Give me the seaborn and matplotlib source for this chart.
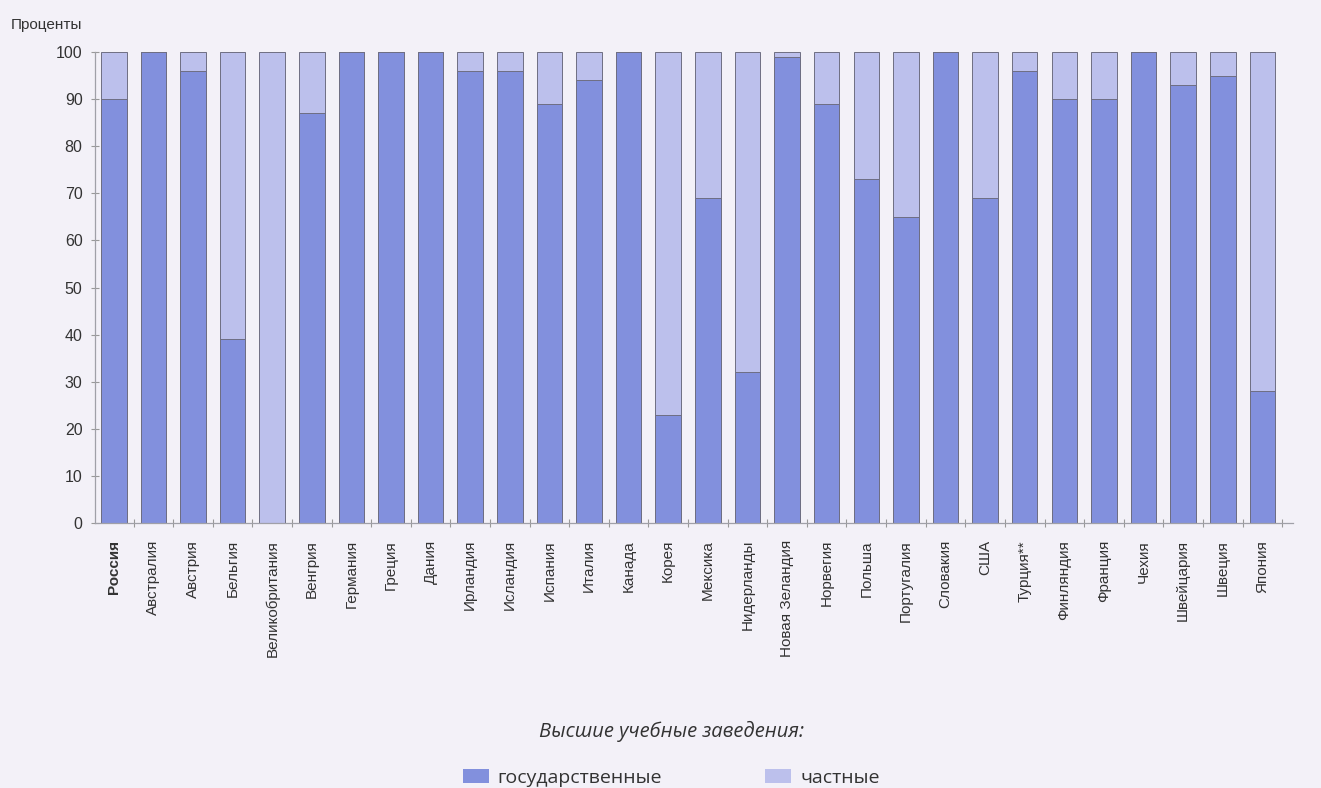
import matplotlib
matplotlib.use("Agg")
import matplotlib.pyplot as plt
from matplotlib.patches import Patch
from matplotlib.ticker import FixedLocator
import seaborn as sns
import pandas as pd

countries = ["Россия", "Австралия", "Австрия", "Бельгия", "Великобритания", "Венгрия",
             "Германия", "Греция", "Дания", "Ирландия", "Исландия", "Испания", "Италия",
             "Канада", "Корея", "Мексика", "Нидерланды", "Новая Зеландия", "Норвегия",
             "Польша", "Португалия", "Словакия", "США", "Турция**", "Финляндия",
             "Франция", "Чехия", "Швейцария", "Швеция", "Япония"]
state = [90, 100, 96, 39, 0, 87, 100, 100, 100, 96, 96, 89, 94, 100, 23, 69, 32, 99, 89,
         73, 65, 100, 69, 96, 90, 90, 100, 93, 95, 28]
private = [10, 0, 4, 61, 100, 13, 0, 0, 0, 4, 4, 11, 6, 0, 77, 31, 68, 1, 11,
           27, 35, 0, 31, 4, 10, 10, 0, 7, 5, 72]
yticks = [0, 10, 20, 30, 40, 50, 60, 70, 80, 90, 100]

c_state = "#8290DD"
c_private = "#BCC0EC"
bg = "#F3F1F8"

sns.set_theme(style="white")
plt.rcParams["font.family"] = ["Liberation Sans", "DejaVu Sans"]

df = pd.DataFrame({"country": countries, "state": state, "private": private})
df["total"] = df["state"] + df["private"]

fig = plt.figure(figsize=(13.21, 7.88), dpi=100, facecolor=bg)
ax = fig.add_axes([0.072, 0.336, 0.907, 0.598])
ax.set_facecolor(bg)

sns.barplot(data=df, x="country", y="total", order=countries, color=c_private,
            width=0.645, edgecolor="#6E6E82", linewidth=0.7, ax=ax, saturation=1)
sns.barplot(data=df, x="country", y="state", order=countries, color=c_state,
            width=0.645, edgecolor="#6E6E82", linewidth=0.7, ax=ax, saturation=1)

ax.set_xlim(-0.47, len(countries) - 0.22)
ax.set_ylim(0, 100)
ax.set_yticks(yticks)
ax.set_yticklabels([str(v) for v in yticks], fontsize=11.5, color="#333333")
ax.set_xlabel("")
ax.set_ylabel("")

ax.set_xticks(range(len(countries)))
ax.set_xticklabels(countries, rotation=90, fontsize=11, color="#333333",
                   va="top", ha="center")
ax.get_xticklabels()[0].set_fontweight("bold")
ax.xaxis.set_minor_locator(FixedLocator([i + 0.5 for i in range(len(countries))]))
ax.tick_params(axis="x", which="major", length=0, pad=12)
ax.tick_params(axis="x", which="minor", bottom=True, length=6, direction="inout",
               color="#999999", width=0.8)
ax.tick_params(axis="y", which="major", left=True, length=6, direction="inout",
               color="#999999", width=0.8, pad=6)

for s in ["top", "right"]:
    ax.spines[s].set_visible(False)
for s in ["left", "bottom"]:
    ax.spines[s].set_color("#A0A0A8")
    ax.spines[s].set_linewidth(0.9)

fig.text(0.008, 0.968, "Проценты", fontsize=11, color="#333333", ha="left", va="center")

handles = [Patch(facecolor=c_state, edgecolor="none", label="государственные"),
           Patch(facecolor=c_private, edgecolor="none", label="частные")]
leg = fig.legend(handles=handles, loc="center", bbox_to_anchor=(0.508, 0.043), ncol=2,
                 frameon=False, columnspacing=5.3, handlelength=1.35, handleheight=0.7,
                 handletextpad=0.45, prop={"family": "Open Sans", "size": 14},
                 title="Высшие учебные заведения:",
                 title_fontproperties={"family": "Open Sans", "size": 14.5, "style": "italic"})
leg._legend_box.sep = 19
for t in leg.get_texts():
    t.set_color("#333333")
leg.get_title().set_color("#333333")

fig.savefig("out.png", dpi=100, facecolor=bg)
